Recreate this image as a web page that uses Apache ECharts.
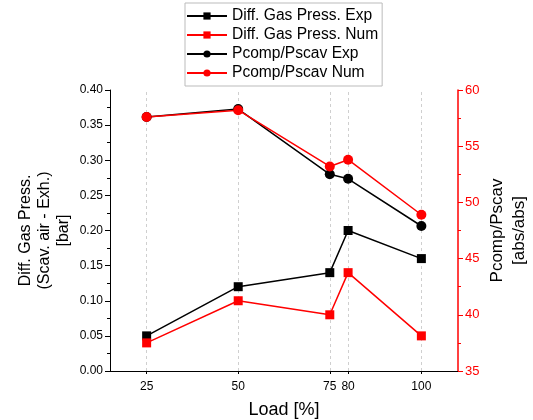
<!DOCTYPE html>
<html>
<head>
<meta charset="utf-8">
<script src="https://cdn.jsdelivr.net/npm/echarts@6/dist/echarts.min.js"></script>
<style>
  html, body { margin: 0; padding: 0; background: #fff; }
  #chart { width: 533px; height: 420px; }
</style>
</head>
<body>
<div id="chart"></div>
<script>
// load points [%]
const loads = [25, 50, 75, 80, 100];

// left axis: differential gas pressure [bar]
const diffExp = [0.05, 0.12, 0.14, 0.20, 0.16];
const diffNum = [0.04, 0.10, 0.08, 0.14, 0.05];

// right axis: Pcomp/Pscav [abs/abs]
const pcompExp = [57.6, 58.3, 52.5, 52.1, 47.9];
const pcompNum = [57.6, 58.2, 53.2, 53.8, 48.9];

const FONT = 'Liberation Sans, Arial, sans-serif';
const RED = '#ff0000';

const pairs = (ys) => loads.map((x, i) => [x, ys[i]]);

const chart = echarts.init(document.getElementById('chart'));

const lineSeries = (name, ys, color, symbol, yIdx) => ({
    name,
    type: 'line',
    yAxisIndex: yIdx,
    data: pairs(ys),
    symbol,
    symbolSize: symbol === 'rect' ? 9 : 10,
    itemStyle: { color },
    lineStyle: { color, width: 1.5 },
    z: 3
});

const series = [
    lineSeries('Diff. Gas Press. Exp', diffExp, '#000', 'rect', 0),
    lineSeries('Diff. Gas Press. Num', diffNum, RED, 'rect', 0),
    lineSeries('Pcomp/Pscav Exp', pcompExp, '#000', 'circle', 1),
    lineSeries('Pcomp/Pscav Num', pcompNum, RED, 'circle', 1)
];

// dotted vertical guides at each load point
series[0].markLine = {
    silent: true,
    symbol: 'none',
    label: { show: false },
    lineStyle: { color: '#cfcfcf', type: [3, 3], width: 1 },
    data: loads.map(x => ({ xAxis: x })),
    z: 1
};

chart.setOption({
    animation: false,
    backgroundColor: '#fff',
    textStyle: { fontFamily: FONT },
    grid: { left: 110, right: 75, top: 90, bottom: 49, outerBoundsMode: 'none' },
    legend: {
        orient: 'vertical',
        left: 185,
        top: 3,
        padding: [5, 4, 5, 1],
        itemGap: 3,
        itemWidth: 40,
        itemHeight: 9,
        borderColor: '#bbb',
        borderWidth: 1,
        backgroundColor: '#fff',
        textStyle: { fontSize: 15.6, color: '#000', fontFamily: FONT }
    },
    xAxis: {
        type: 'value',
        min: 15,
        max: 110,
        name: 'Load [%]',
        nameLocation: 'middle',
        nameGap: 30,
        nameTextStyle: { fontSize: 18, color: '#000' },
        axisLine: { lineStyle: { color: '#000', width: 1 } },
        axisTick: { show: true, customValues: loads, length: 3, lineStyle: { color: '#000' } },
        axisLabel: { customValues: loads, color: '#000', fontSize: 12, margin: 10 },
        splitLine: { show: false }
    },
    yAxis: [{
        type: 'value',
        min: 0,
        max: 0.4,
        interval: 0.05,
        position: 'left',
        name: 'Diff. Gas Press.\n(Scav. air - Exh.)\n[bar]',
        nameLocation: 'middle',
        nameRotate: 90,
        nameGap: 37,
        nameMoveOverlap: false,
        nameTextStyle: { fontSize: 16, color: '#000', lineHeight: 19 },
        axisLine: { show: true, lineStyle: { color: '#000', width: 1 } },
        axisTick: { show: true, length: 5, lineStyle: { color: '#000' } },
        minorTick: { show: true, splitNumber: 2, length: 3, lineStyle: { color: '#000' } },
        axisLabel: { color: '#000', fontSize: 12, margin: 7, formatter: v => v.toFixed(2) },
        splitLine: { show: false }
    }, {
        type: 'value',
        min: 35,
        max: 60,
        interval: 5,
        position: 'right',
        name: 'Pcomp/Pscav\n[abs/abs]',
        nameLocation: 'middle',
        nameRotate: 90,
        nameGap: 28,
        nameMoveOverlap: false,
        nameTextStyle: { fontSize: 17, color: '#000', lineHeight: 22 },
        axisLine: { show: true, lineStyle: { color: RED, width: 1.5 } },
        axisTick: { show: true, length: 5, lineStyle: { color: RED } },
        minorTick: { show: true, splitNumber: 2, length: 3, lineStyle: { color: RED } },
        axisLabel: { color: RED, fontSize: 13, margin: 7 },
        splitLine: { show: false }
    }],
    series
});
</script>
</body>
</html>
